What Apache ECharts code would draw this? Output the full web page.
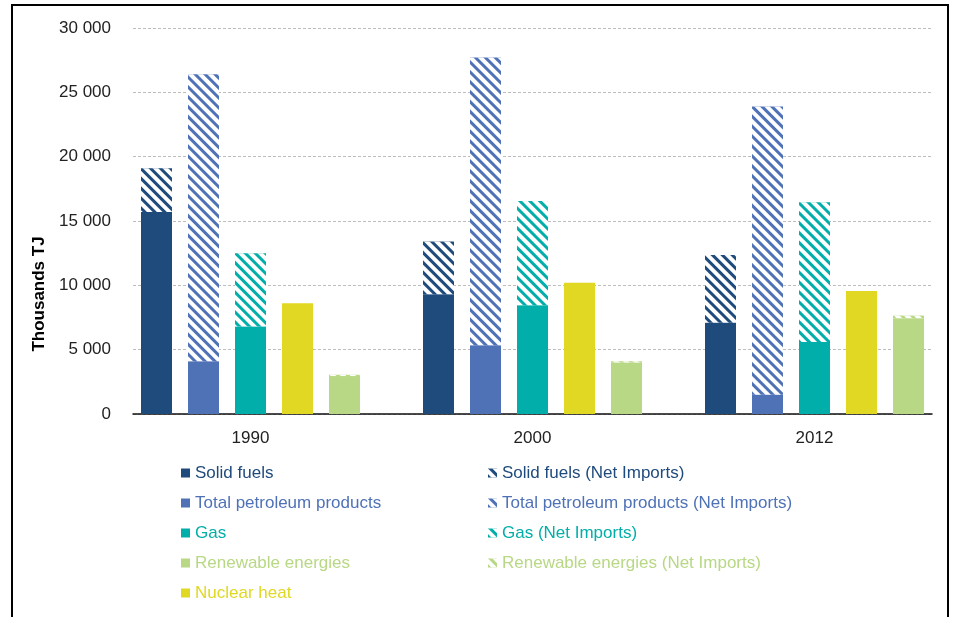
<!DOCTYPE html>
<html>
<head>
<meta charset="utf-8">
<script src="https://cdn.jsdelivr.net/npm/echarts@6/dist/echarts.min.js"></script>
<style>
  html, body { margin: 0; padding: 0; background: #fff; }
  #chart { width: 953px; height: 617px; }
</style>
</head>
<body>
<div id="chart"></div>
<script>
  // values in thousands TJ
  var years = ['1990', '2000', '2012'];
  var solidFuels = [15700, 9300, 7100];
  var solidFuelsImports = [3400, 4100, 5250];
  var petroleum = [4100, 5350, 1500];
  var petroleumImports = [22300, 22350, 22400];
  var gas = [6800, 8450, 5600];
  var gasImports = [5700, 8100, 10850];
  var nuclear = [8600, 10200, 9550];
  var renewables = [2950, 4000, 7450];
  var renewablesImports = [100, 100, 200];

  var FONT = "'Liberation Sans Narrow', 'Liberation Sans', Arial, sans-serif";
  var colors = {
      solid: '#1f4a7c',
      petrol: '#4f72b7',
      gas: '#02aea9',
      nuclear: '#e0d822',
      renew: '#b8d885'
  };

  // 5 bars per year plus one empty slot between years
  var perYear = 6;
  var slotCount = years.length * perYear - 1;

  var categories = [];
  for (var i = 0; i < slotCount; i++) {
      categories.push(i % perYear === 2 ? years[Math.floor(i / perYear)] : '');
  }

  function slotData(values, pos) {
      var out = [];
      for (var i = 0; i < slotCount; i++) out.push('-');
      values.forEach(function (v, y) { out[y * perYear + pos] = v; });
      return out;
  }

  var hatch = {
      symbol: 'rect',
      symbolSize: 1,
      dashArrayX: [1, 0],
      dashArrayY: [4, 2.6],
      rotation: Math.PI / 4,
      color: '#ffffff'
  };

  function bar(name, values, pos, color, hatched) {
      var s = {
          name: name,
          type: 'bar',
          stack: 'all',
          barWidth: 31,
          data: slotData(values, pos),
          itemStyle: { color: color }
      };
      if (hatched) s.itemStyle.decal = hatch;
      return s;
  }

  var series = [
      bar('Solid fuels', solidFuels, 0, colors.solid),
      bar('Solid fuels (Net Imports)', solidFuelsImports, 0, colors.solid, true),
      bar('Total petroleum products', petroleum, 1, colors.petrol),
      bar('Total petroleum products (Net Imports)', petroleumImports, 1, colors.petrol, true),
      bar('Gas', gas, 2, colors.gas),
      bar('Gas (Net Imports)', gasImports, 2, colors.gas, true),
      bar('Nuclear heat', nuclear, 3, colors.nuclear),
      bar('Renewable energies', renewables, 4, colors.renew),
      bar('Renewable energies (Net Imports)', renewablesImports, 4, colors.renew, true)
  ];

  function legendItem(name, color) {
      return { name: name, textStyle: { color: color } };
  }

  var legendBase = {
      orient: 'vertical',
      top: 458,
      itemWidth: 9,
      itemHeight: 9,
      itemGap: 10,
      icon: 'rect',
      textStyle: { fontFamily: FONT, fontSize: 17, lineHeight: 20 }
  };

  var option = {
      animation: false,
      backgroundColor: '#fff',
      grid: { left: 133, right: 21, top: 28, bottom: 203 },
      legend: [
          Object.assign({}, legendBase, {
              left: 176,
              data: [
                  legendItem('Solid fuels', colors.solid),
                  legendItem('Total petroleum products', colors.petrol),
                  legendItem('Gas', colors.gas),
                  legendItem('Renewable energies', colors.renew),
                  legendItem('Nuclear heat', colors.nuclear)
              ]
          }),
          Object.assign({}, legendBase, {
              left: 483,
              data: [
                  legendItem('Solid fuels (Net Imports)', colors.solid),
                  legendItem('Total petroleum products (Net Imports)', colors.petrol),
                  legendItem('Gas (Net Imports)', colors.gas),
                  legendItem('Renewable energies (Net Imports)', colors.renew)
              ]
          })
      ],
      xAxis: {
          type: 'category',
          data: categories,
          axisTick: { show: false },
          axisLine: { lineStyle: { color: '#111', width: 1.5 } },
          axisLabel: {
              interval: 0,
              margin: 16,
              color: '#222',
              fontFamily: FONT,
              fontSize: 17
          }
      },
      yAxis: {
          type: 'value',
          min: 0,
          max: 30000,
          interval: 5000,
          axisLine: { show: false },
          axisTick: { show: false },
          splitLine: { lineStyle: { color: '#bdbdbd', type: [3, 2] } },
          axisLabel: {
              margin: 22,
              color: '#222',
              fontFamily: FONT,
              fontSize: 17,
              formatter: function (v) {
                  return String(v).replace(/\B(?=(\d{3})+(?!\d))/g, ' ');
              }
          }
      },
      graphic: [
          {
              type: 'rect',
              shape: { x: 12, y: 5, width: 936, height: 640 },
              style: { fill: null, stroke: '#000', lineWidth: 2 },
              silent: true
          },
          {
              type: 'text',
              x: 39,
              y: 294,
              rotation: Math.PI / 2,
              style: {
                  text: 'Thousands TJ',
                  fontFamily: FONT,
                  fontSize: 17,
                  fontWeight: 'bold',
                  fill: '#000',
                  align: 'center',
                  verticalAlign: 'middle'
              }
          }
      ],
      series: series
  };

  var chart = echarts.init(document.getElementById('chart'));
  chart.setOption(option);
</script>
</body>
</html>
